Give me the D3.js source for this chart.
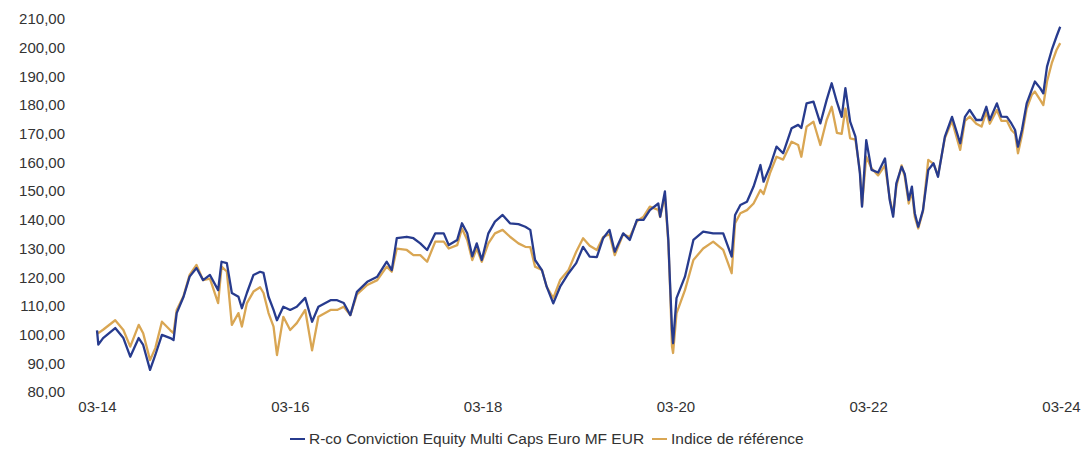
<!DOCTYPE html>
<html>
<head>
<meta charset="utf-8">
<script src="https://cdn.jsdelivr.net/npm/d3@7"></script>
<style>
  body { margin: 0; background: #fff; }
  svg text { font-family: "Liberation Sans", Arial, sans-serif; fill: #333; }
</style>
</head>
<body>
<svg id="chart" width="1082" height="450"></svg>
<script>
var dates = ["2014-03-31","2014-04-05","2014-04-23","2014-06-08","2014-07-09","2014-08-04","2014-09-05","2014-09-22","2014-10-18","2014-11-07",
"2014-12-02","2015-01-03","2015-01-15","2015-01-27","2015-02-22","2015-03-17","2015-04-12","2015-05-07","2015-06-02","2015-07-03",
"2015-07-16","2015-08-05","2015-08-24","2015-09-18","2015-10-01","2015-10-20","2015-11-14","2015-12-09","2015-12-22","2016-01-10",
"2016-01-29","2016-02-11","2016-03-06","2016-04-01","2016-04-26","2016-05-28","2016-06-23","2016-07-17","2016-09-01","2016-09-26",
"2016-10-21","2016-11-15","2016-12-10","2017-01-18","2017-02-25","2017-04-02","2017-04-21","2017-05-10","2017-06-17","2017-07-12",
"2017-08-07","2017-09-02","2017-10-03","2017-11-04","2017-11-23","2017-12-25","2018-01-12","2018-02-01","2018-02-20","2018-03-09",
"2018-03-28","2018-04-22","2018-05-17","2018-06-15","2018-07-13","2018-08-14","2018-09-09","2018-09-28","2018-10-16","2018-11-11",
"2018-11-29","2018-12-24","2019-01-19","2019-02-20","2019-03-21","2019-04-16","2019-05-11","2019-06-07","2019-07-01","2019-07-25",
"2019-08-14","2019-09-15","2019-10-10","2019-11-06","2019-12-01","2019-12-25","2020-01-26","2020-02-02","2020-02-20","2020-03-04",
"2020-03-10","2020-03-18","2020-03-22","2020-04-04","2020-05-06","2020-06-07","2020-07-14","2020-08-21","2020-09-28","2020-10-30",
"2020-11-12","2020-12-02","2020-12-27","2021-01-21","2021-02-16","2021-02-28","2021-03-24","2021-04-18","2021-05-13","2021-06-14",
"2021-07-09","2021-07-21","2021-08-10","2021-09-05","2021-10-01","2021-10-25","2021-11-13","2021-12-03","2021-12-21","2022-01-04",
"2022-01-22","2022-02-11","2022-02-28","2022-03-08","2022-03-24","2022-04-13","2022-05-08","2022-06-03","2022-06-21","2022-07-04",
"2022-07-16","2022-08-05","2022-08-17","2022-09-01","2022-09-13","2022-09-24","2022-10-07","2022-10-25","2022-11-14","2022-12-04",
"2022-12-21","2023-01-16","2023-02-12","2023-03-15","2023-04-02","2023-04-20","2023-05-15","2023-06-04","2023-06-22","2023-07-05",
"2023-08-01","2023-08-18","2023-09-08","2023-09-25","2023-10-09","2023-10-20","2023-11-04","2023-11-22","2023-12-11","2023-12-23",
"2024-01-12","2024-01-24","2024-02-07","2024-02-25","2024-03-14","2024-03-28"];

var fund = [101.5,96.5,98.8,102.3,98.8,92.3,98.8,96.4,87.7,92.9,
99.9,98.8,98.1,107.5,113.2,120.2,123.2,119,120.8,115.5,
125.4,124.9,114.5,113.2,109.2,114.5,120.8,121.9,121.5,113.2,
108.6,105,109.7,108.6,109.7,112.8,104.5,109.7,112,112,
111,106.8,114.9,118.4,120.2,125.4,122.5,133.6,134.1,133.6,
131.8,129.5,135.3,135.3,131.2,133,138.8,135.3,127.3,131.8,
126,135.3,139.4,141.7,138.8,138.5,137.6,136.5,126,122.5,
116.7,110.9,116.7,121.4,124.9,130.6,127.2,127,133.6,136.5,
128.9,135.3,133,140,140,143.4,145.7,141.1,149.9,133,
119,101.6,97,112.7,120.2,133,135.9,135.3,135.3,127.2,
141.7,145.2,146.3,151.6,159.1,153.3,158.5,165.5,163.2,171.9,
173.1,172,180.6,181.2,173.6,181.8,187.6,181,175.9,185.9,
174.2,169,156.2,144.6,167.8,157.4,156.5,161.4,146.9,141.1,
152.7,158.5,156,146.9,151.6,142.3,137.6,143.4,157.4,159.7,
155,169,175.9,166.7,175.9,178.3,174.8,174.8,179.4,174.8,
180.6,176,175.9,173.6,171.3,165.5,171.3,180.6,185.3,188.2,
185.9,184.1,193.4,199.2,203.9,207.3];

var benchmark = [101,100.5,101.7,105,101.6,95.8,103.4,100.5,91.1,95.3,
104.5,101.5,100.5,108.6,113.5,120.8,124.3,119,119.5,111,
123.7,122,103.4,107.5,102.8,111,115,116.5,114.5,107.5,
102.8,92.9,106.2,101.6,104,108.6,94.5,106.2,108.6,108.6,
109.7,106.8,114,117.3,119,123.7,121.9,130,129.5,127.7,
127.7,125.4,132.4,132.4,130,131.2,137,133,126,130,
125.4,131.8,135.3,136.5,134.1,131.8,130.6,130.5,123.7,122.5,
116.7,112.7,119,122.5,128.9,133.6,131,129.5,134,135,
127.7,135,134,139.5,141.1,144.6,143.5,141,148.5,132,
118,95.8,93.6,107.4,115.5,126,130,132.4,129.5,121.4,
138.8,142.3,143.4,145.7,150.4,149,156.2,162,161,167.2,
166.1,162,172.5,174.2,166.1,174.8,179.4,170.3,170,178.8,
168.4,168,157,145,162,158,155.5,159,147.5,142,
151.5,159,155,145.7,150,141,137,143,160.9,159.5,
155.5,168.5,174.5,164.4,174.5,176,173.5,172.5,177.5,173.5,
178.3,174.5,174.5,171.3,170,163.2,169.5,178.8,183.5,184.7,
181.8,180,188.2,194.6,199.2,201.6];

var yTicks = [80,90,100,110,120,130,140,150,160,170,180,190,200,210];
var xTickDates = ["2014-03-31","2016-03-31","2018-03-31","2020-03-31","2022-03-31","2024-03-31"];
var seriesNames = ["R-co Conviction Equity Multi Caps Euro MF EUR", "Indice de référence"];
var seriesColors = ["#273b8e", "#d9a653"];

var parse = d3.timeParse("%Y-%m-%d");
var svg = d3.select("#chart");

var x = d3.scaleTime()
  .domain([parse("2014-03-31"), parse("2024-03-31")])
  .range([97, 1061]);
var y = d3.scaleLinear().domain([80, 210]).range([392, 19]);

var fmt = d3.format(".2f");
var yAxis = d3.axisLeft(y).tickValues(yTicks).tickSize(0).tickPadding(0)
  .tickFormat(function(d) { return fmt(d).replace(".", ","); });
var gy = svg.append("g").attr("transform", "translate(65,0)").call(yAxis);
gy.select(".domain").remove();
gy.selectAll("text").attr("font-size", 15).style("font-family", "'Liberation Sans', Arial, sans-serif").attr("fill", "#333");

var xAxis = d3.axisBottom(x).tickValues(xTickDates.map(parse)).tickSize(0).tickPadding(0)
  .tickFormat(d3.timeFormat("%m-%y"));
var gx = svg.append("g").attr("transform", "translate(0,401)").call(xAxis);
gx.select(".domain").remove();
gx.selectAll("text").attr("font-size", 15).style("font-family", "'Liberation Sans', sans-serif").attr("fill", "#333");

function rows(vals) {
  return dates.map(function(d, i) { return { date: parse(d), v: vals[i] }; });
}
var line = d3.line().x(function(d) { return x(d.date); }).y(function(d) { return y(d.v); });

// benchmark first so the fund sits on top
svg.append("path").datum(rows(benchmark))
  .attr("fill", "none").attr("stroke", seriesColors[1]).attr("stroke-width", 2.3)
  .attr("stroke-linejoin", "round").attr("d", line);
svg.append("path").datum(rows(fund))
  .attr("fill", "none").attr("stroke", seriesColors[0]).attr("stroke-width", 2.3)
  .attr("stroke-linejoin", "round").attr("d", line);

// legend
var legend = svg.append("g").attr("transform", "translate(0,439)");
var lx = [290, 652];
seriesNames.forEach(function(name, i) {
  legend.append("line").attr("x1", lx[i]).attr("x2", lx[i] + 15)
    .attr("y1", 0).attr("y2", 0).attr("stroke", seriesColors[i]).attr("stroke-width", 2);
  legend.append("text").attr("x", lx[i] + 19).attr("y", 5)
    .attr("font-size", 15.5)
    .text(name);
});
</script>
</body>
</html>
